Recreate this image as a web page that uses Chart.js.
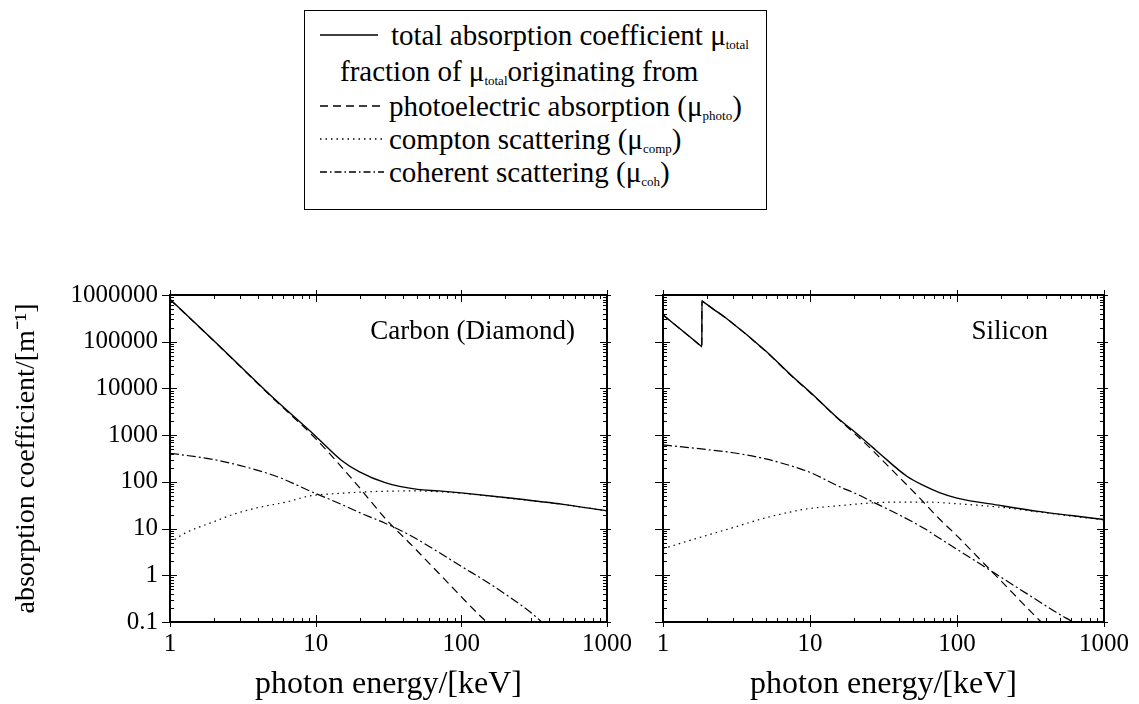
<!DOCTYPE html>
<html>
<head>
<meta charset="utf-8">
<script src="https://cdn.jsdelivr.net/npm/chart.js@4.4.1/dist/chart.umd.min.js"></script>
<style>
    body { margin: 0; background: #fff; width: 1139px; height: 704px; position: relative; overflow: hidden;
           font-family: "Liberation Serif", "Times New Roman", serif; color: #000; }
    #legend { position: absolute; left: 304px; top: 10px; width: 461px; height: 198px; border: 1.5px solid #000; }
    .row { position: absolute; height: 34px; line-height: 34px; font-size: 29px; white-space: nowrap;
           font-family: "Liberation Serif", "Times New Roman", serif; }
    .row svg { position: absolute; left: 0; top: 0; }
    .row sub { font-size: 13px; vertical-align: -4px; }
    canvas { position: absolute; }
</style>
</head>
<body>
<div id="legend">
    <div class="row" style="left:15px; top:7px;"><svg width="60" height="34"><line x1="0" y1="17" x2="58" y2="17" stroke="#000" stroke-width="1.6"/></svg><span style="margin-left:71px">total absorption coefficient μ<sub>total</sub></span></div>
    <div class="row" style="left:35px; top:43px;">fraction of μ<sub>total</sub>originating from</div>
    <div class="row" style="left:15px; top:78px;"><svg width="66" height="34"><line x1="0" y1="17" x2="64" y2="17" stroke="#000" stroke-width="1.3" stroke-dasharray="8,5"/></svg><span style="margin-left:69px">photoelectric absorption (μ<sub>photo</sub>)</span></div>
    <div class="row" style="left:15px; top:111px;"><svg width="66" height="34"><line x1="0" y1="17" x2="64" y2="17" stroke="#000" stroke-width="1.3" stroke-dasharray="1.5,4"/></svg><span style="margin-left:69px">compton scattering (μ<sub>comp</sub>)</span></div>
    <div class="row" style="left:15px; top:144px;"><svg width="66" height="34"><line x1="0" y1="17" x2="64" y2="17" stroke="#000" stroke-width="1.3" stroke-dasharray="7,3,1.5,3"/></svg><span style="margin-left:69px">coherent scattering (μ<sub>coh</sub>)</span></div>
</div>
<canvas id="carbon" width="640" height="444" style="left:0; top:260px;"></canvas>
<canvas id="silicon" width="499" height="444" style="left:640px; top:260px;"></canvas>
<script>
// axis ticks
const xTicks = [1, 10, 100, 1000];
const xTickLabels = ['1', '10', '100', '1000'];
const yTicks = [0.1, 1, 10, 100, 1000, 10000, 100000, 1000000];
const yTickLabels = ['0.1', '1', '10', '100', '1000', '10000', '100000', '1000000'];

// Carbon (Diamond), energies in keV, values in 1/m
const cTotalE = [1, 2, 3, 5, 10, 15, 20, 30, 50, 70, 100, 215, 500, 1000];
const cTotal = [8.1e5, 1.05e5, 3.1e4, 6.7e3, 950, 290, 163, 96, 69, 64, 58, 45, 33, 24];
const cPhotoE = [1, 2, 3, 5, 10, 18, 31, 44.4, 74.6, 140, 170];
const cPhoto = [8.0e5, 1.04e5, 3.05e4, 6.5e3, 840, 110, 14.8, 4.8, 0.9, 0.12, 0.07];
const cCompE = [1, 1.27, 2, 2.7, 4, 6.3, 9.1, 15, 20, 30, 50, 80, 100, 215, 500, 1000];
const cComp = [5, 8, 14, 20, 28, 37, 50, 57, 60, 63, 64, 60, 57, 44.5, 32.8, 24];
const cCohE = [1, 2, 3, 4.6, 6, 9.1, 15, 20, 30, 44.4, 70, 100, 150, 215, 300, 357, 420];
const cCoh = [410, 300, 225, 155, 115, 64, 33, 22, 13, 7.2, 3.1, 1.55, 0.72, 0.34, 0.16, 0.1, 0.07];

// Silicon (K edge at 1.84 keV)
const sTotalE = [1, 1.5, 1.82, 1.838, 1.84, 1.86, 2.2, 2.72, 5, 7.67, 10, 16, 20, 26.8, 30, 45.6, 60, 76, 100, 200, 368, 600, 1000];
const sTotal = [3.76e5, 1.32e5, 8.0e4, 7.8e4, 7.5e5, 7.32e5, 5.0e5, 3.1e5, 6.3e4, 1.75e4, 8.4e3, 2.1e3, 1.2e3, 540, 395, 132, 82, 59, 45, 31, 23, 19, 15.6];
const sPhotoE = [1, 1.5, 1.82, 1.838, 1.84, 1.86, 2.2, 2.72, 5, 7.67, 10, 16, 20, 26.8, 30, 40, 54, 76, 100, 155, 200, 300, 368, 450];
const sPhoto = [3.75e5, 1.315e5, 7.95e4, 7.75e4, 7.5e5, 7.3e5, 4.98e5, 3.1e5, 6.2e4, 1.72e4, 8.2e3, 2.05e3, 1.1e3, 466, 325, 130, 50, 16, 7, 1.7, 0.75, 0.2, 0.105, 0.056];
const sCompE = [1, 1.5, 2, 3, 5, 8.6, 10, 16, 25, 40, 60, 100, 200, 368, 600, 1000];
const sComp = [3.7, 5.5, 7.2, 10.5, 17, 25, 27, 31, 35, 37, 37, 34, 28.5, 22.5, 18.5, 15.4];
const sCohE = [1, 2, 3, 5, 8.6, 10, 16, 20, 26.8, 40, 60, 76, 100, 155, 200, 300, 500, 615, 700];
const sCoh = [620, 490, 420, 310, 190, 160, 78, 58, 37, 20, 10, 6.2, 3.6, 1.5, 0.9, 0.4, 0.145, 0.1, 0.077];

const serif = '"Liberation Serif", "Times New Roman", serif';

function pts(xs, ys) {
    return xs.map((x, i) => ({ x: x, y: ys[i] }));
}

function series(xs, ys, dash, width) {
    return {
        data: pts(xs, ys),
        borderColor: '#000',
        borderWidth: width || 1.2,
        borderDash: dash,
        pointRadius: 0,
        cubicInterpolationMode: 'monotone',
        fill: false
    };
}

// box round the plot plus ticks on all four sides (major ones cross the frame)
const frameTicks = {
    id: 'frameTicks',
    afterDatasetsDraw(chart) {
        const { ctx, chartArea: a, scales: { x, y } } = chart;
        ctx.save();
        ctx.strokeStyle = '#000';
        ctx.lineWidth = 2;
        ctx.strokeRect(a.left, a.top, a.right - a.left, a.bottom - a.top);
        ctx.lineWidth = 1;
        ctx.beginPath();
        for (let e = 0; e < 3; e++) {
            for (let m = 1; m <= 10; m++) {
                const p = Math.round(x.getPixelForValue(m * Math.pow(10, e))) + 0.5;
                const major = m === 1 || m === 10;
                const len = major ? 7 : 4;
                const out = major ? 5 : 0;
                ctx.moveTo(p, a.bottom + out); ctx.lineTo(p, a.bottom - len);
                ctx.moveTo(p, a.top - out); ctx.lineTo(p, a.top + len);
            }
        }
        for (let e = -1; e < 6; e++) {
            for (let m = 1; m <= 10; m++) {
                const p = Math.round(y.getPixelForValue(m * Math.pow(10, e))) + 0.5;
                const major = m === 1 || m === 10;
                const len = major ? 7 : 4;
                const out = major ? 8 : 0;
                ctx.moveTo(a.left - out, p); ctx.lineTo(a.left + len, p);
                ctx.moveTo(a.right + (major ? 4 : 0), p); ctx.lineTo(a.right - len, p);
            }
        }
        ctx.stroke();
        ctx.restore();
    }
};

// material name in the upper right of each panel
const panelName = {
    id: 'panelName',
    afterDraw(chart, args, opts) {
        const { ctx, chartArea: a } = chart;
        ctx.save();
        ctx.font = '27px ' + serif;
        ctx.fillStyle = '#000';
        ctx.textAlign = 'right';
        ctx.textBaseline = 'middle';
        ctx.fillText(opts.text, a.right - opts.right, a.top + 37);
        ctx.restore();
    }
};

function makeChart(id, sets, name, nameRight, isLeft) {
    return new Chart(document.getElementById(id), {
        type: 'line',
        data: { datasets: sets },
        plugins: [frameTicks, panelName],
        options: {
            responsive: false,
            animation: false,
            layout: { padding: { top: 35, right: isLeft ? 33 : 35, left: 0, bottom: 0 } },
            plugins: {
                legend: { display: false },
                tooltip: { enabled: false },
                panelName: { text: name, right: nameRight }
            },
            scales: {
                x: {
                    type: 'logarithmic',
                    min: 1,
                    max: 1000,
                    afterBuildTicks: s => { s.ticks = xTicks.map(v => ({ value: v })); },
                    afterFit: s => { s.height = 82; },
                    grid: { display: false, drawTicks: false },
                    border: { display: true, color: '#000', width: 2 },
                    ticks: {
                        autoSkip: false,
                        maxRotation: 0,
                        padding: 7,
                        color: '#000',
                        font: { family: serif, size: 25 },
                        callback: (v, i) => xTickLabels[i]
                    },
                    title: {
                        display: true,
                        text: 'photon energy/[keV]',
                        color: '#000',
                        font: { family: serif, size: 32 },
                        padding: { top: 0, bottom: 0 }
                    }
                },
                y: {
                    type: 'logarithmic',
                    min: 0.1,
                    max: 1000000,
                    afterBuildTicks: s => { s.ticks = yTicks.map(v => ({ value: v })); },
                    afterFit: s => { s.width = isLeft ? 170 : 23; },
                    grid: { display: false, drawTicks: false },
                    border: { display: true, color: '#000', width: 2 },
                    ticks: {
                        display: isLeft,
                        autoSkip: false,
                        padding: 12,
                        color: '#000',
                        font: { family: serif, size: 25 },
                        callback: (v, i) => yTickLabels[i]
                    },
                    title: {
                        display: isLeft,
                        text: 'absorption coefficient/[m⁻¹]',
                        color: '#000',
                        font: { family: serif, size: 28 },
                        padding: { top: 10, bottom: 0 }
                    }
                }
            }
        }
    });
}

makeChart('carbon', [
    series(cTotalE, cTotal, [], 1.4),
    series(cPhotoE, cPhoto, [8, 5]),
    series(cCompE, cComp, [1.5, 4]),
    series(cCohE, cCoh, [9, 3, 2, 3])
], 'Carbon (Diamond)', 32, true);

makeChart('silicon', [
    series(sTotalE, sTotal, [], 1.4),
    series(sPhotoE, sPhoto, [8, 5]),
    series(sCompE, sComp, [1.5, 4]),
    series(sCohE, sCoh, [9, 3, 2, 3])
], 'Silicon', 56, false);
</script>
</body>
</html>
